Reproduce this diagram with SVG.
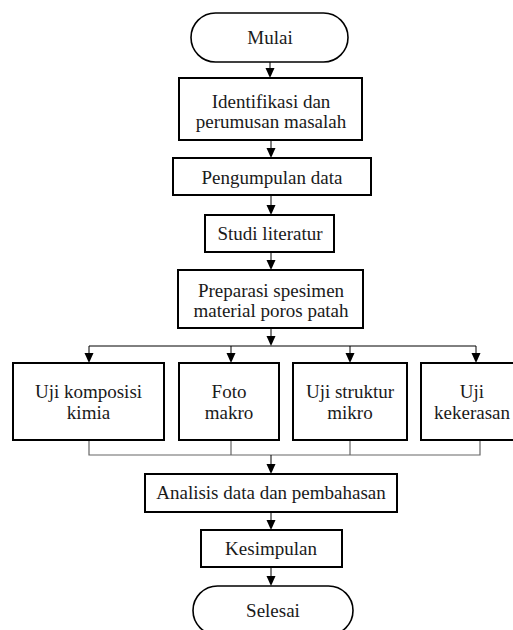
<svg xmlns="http://www.w3.org/2000/svg" width="513" height="630" viewBox="0 0 513 630">
<style>
.box{fill:#fff;stroke:#000;stroke-width:2}
.term{fill:#fff;stroke:#000;stroke-width:1.6}
text{font-family:"Liberation Serif","Times New Roman",serif;font-size:19px;fill:#1a1a1a;text-anchor:middle}
.ln{stroke:#000;stroke-width:1;fill:none}
.gl{stroke:#666;stroke-width:1.2;fill:none}
.ah{fill:#000}
</style>
<rect width="513" height="630" fill="#fff"/>
<g id="connectors">
<line class="ln" x1="270" y1="62" x2="270" y2="70"/>
<line class="ln" x1="271" y1="140" x2="271" y2="150"/>
<line class="ln" x1="271" y1="195" x2="271" y2="207"/>
<line class="ln" x1="271" y1="252" x2="271" y2="262"/>
<line class="ln" x1="271" y1="328" x2="271" y2="338"/>
<polyline class="ln" points="89,355 89,346 476,346 476,355"/>
<line class="ln" x1="231" y1="346" x2="231" y2="355"/>
<line class="ln" x1="350" y1="346" x2="350" y2="355"/>
<polyline class="gl" points="89,440 89,455 480,455 480,440"/>
<line class="gl" x1="231" y1="440" x2="231" y2="455"/>
<line class="gl" x1="350" y1="440" x2="350" y2="455"/>
<line class="ln" x1="271" y1="455" x2="271" y2="466"/>
<line class="ln" x1="271" y1="512" x2="271" y2="522"/>
<line class="ln" x1="271" y1="567" x2="271" y2="578"/>
<g class="ah">
<path d="M265.5,68 L274.5,68 L270,78 Z"/>
<path d="M266.5,148 L275.5,148 L271,158 Z"/>
<path d="M266.5,205 L275.5,205 L271,215 Z"/>
<path d="M266.5,260 L275.5,260 L271,270 Z"/>
<path d="M266.5,336 L275.5,336 L271,346 Z"/>
<path d="M84.5,353 L93.5,353 L89,363 Z"/>
<path d="M226.5,353 L235.5,353 L231,363 Z"/>
<path d="M345.5,353 L354.5,353 L350,363 Z"/>
<path d="M471.5,353 L480.5,353 L476,363 Z"/>
<path d="M266.5,464 L275.5,464 L271,474 Z"/>
<path d="M266.5,520 L275.5,520 L271,530 Z"/>
<path d="M266.5,576 L275.5,576 L271,586 Z"/>
</g>
</g>
<g id="mulai"><rect class="term" x="191" y="13" width="157" height="49" rx="24.5"/><text x="270" y="44">Mulai</text></g>
<g id="identifikasi"><rect class="box" x="179" y="78" width="183" height="62"/><text x="271" y="108">Identifikasi dan</text><text x="271" y="128">perumusan masalah</text></g>
<g id="pengumpulan"><rect class="box" x="173" y="158" width="198" height="37"/><text x="272" y="184">Pengumpulan data</text></g>
<g id="studi"><rect class="box" x="205" y="215" width="129" height="37"/><text x="270" y="240">Studi literatur</text></g>
<g id="preparasi"><rect class="box" x="178" y="270" width="185" height="58"/><text x="271" y="297">Preparasi spesimen</text><text x="271" y="317">material poros patah</text></g>
<g id="komposisi"><rect class="box" x="13" y="363" width="151" height="77"/><text x="88.5" y="398">Uji komposisi</text><text x="88.5" y="419">kimia</text></g>
<g id="foto"><rect class="box" x="179" y="363" width="100" height="77"/><text x="229" y="398">Foto</text><text x="229" y="419">makro</text></g>
<g id="struktur"><rect class="box" x="293" y="363" width="114" height="77"/><text x="350" y="398">Uji struktur</text><text x="350" y="419">mikro</text></g>
<g id="kekerasan"><rect class="box" x="421" y="363" width="102" height="77"/><text x="472" y="398">Uji</text><text x="472" y="419">kekerasan</text></g>
<g id="analisis"><rect class="box" x="145" y="474" width="252" height="38"/><text x="271" y="499">Analisis data dan pembahasan</text></g>
<g id="kesimpulan"><rect class="box" x="201" y="530" width="141" height="37"/><text x="271" y="555">Kesimpulan</text></g>
<g id="selesai"><rect class="term" x="193" y="586" width="160" height="49" rx="24.5"/><text x="273" y="617">Selesai</text></g>
</svg>
